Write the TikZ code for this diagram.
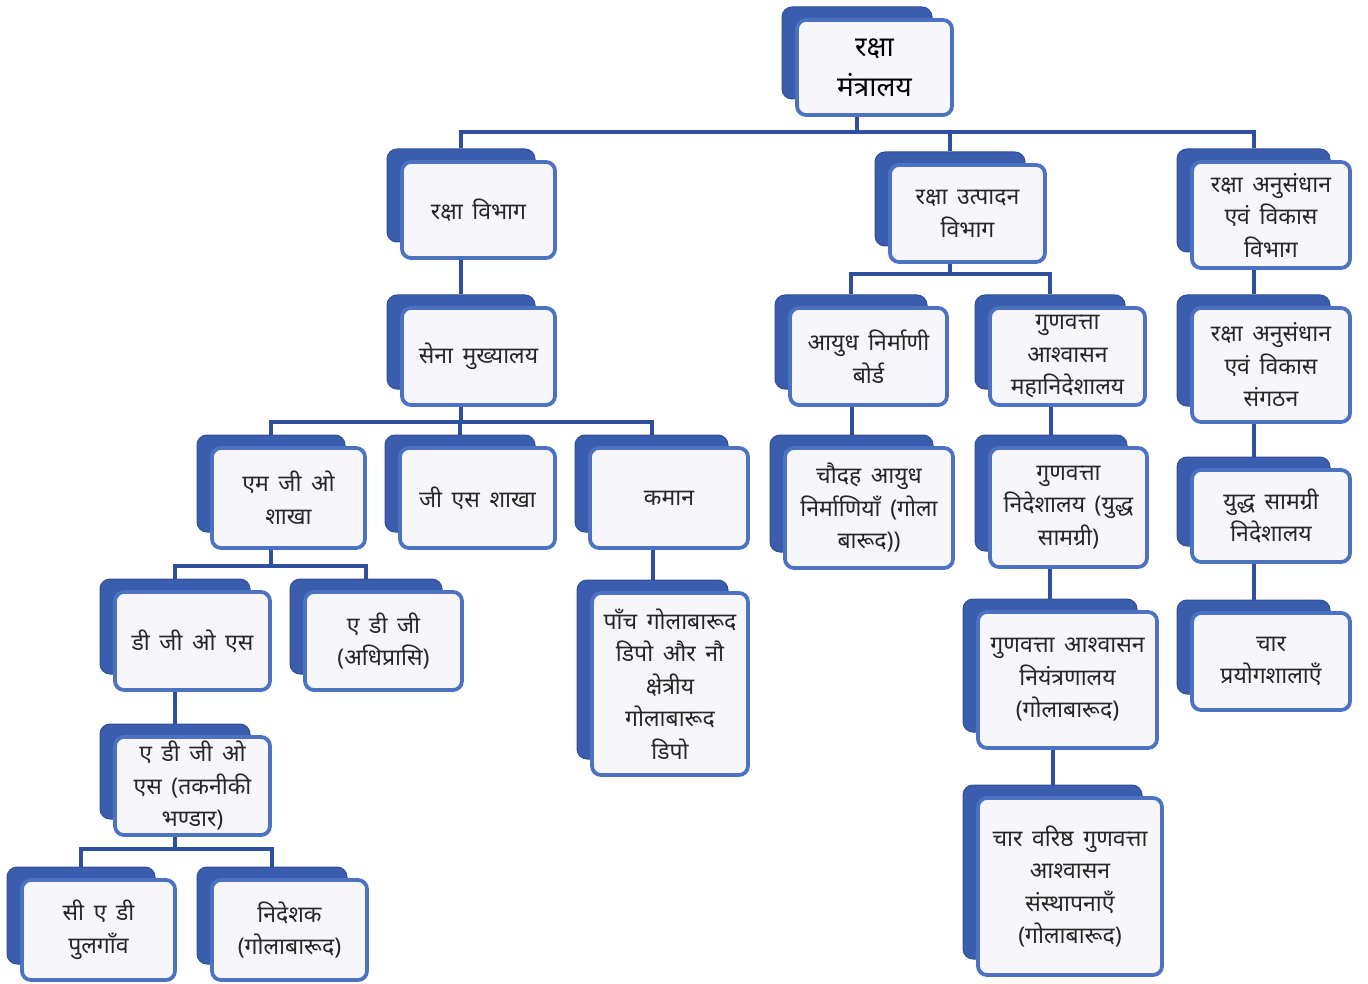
\documentclass[tikz,border=0pt]{standalone}
\usepackage{fontspec}
\newfontfamily\dev[Script=Devanagari, WordSpace=1.6]{Noto Sans}
\usetikzlibrary{calc}
\definecolor{backblue}{HTML}{3B5DAE}
\definecolor{frontline}{HTML}{4C72C2}
\definecolor{frontfill}{HTML}{F7F7FB}
\definecolor{connblue}{HTML}{2E4F9F}
\tikzset{
  backbox/.style={fill=backblue, draw=backblue!85!black, line width=1pt, rounded corners=10pt, inner sep=0pt},
  frontbox/.style={fill=frontfill, draw=frontline, line width=3.8pt, rounded corners=9pt, inner sep=0pt, align=center,
    font=\dev\fontsize{23}{32.5}\selectfont, text=black!85},
  conn/.style={draw=connblue, line width=4pt, line join=miter},
}
% [extra style], name, x1, y1, x2, y2 (front box), text
\newcommand\obox[7][]{%
  \node[backbox, minimum width={(#5-#3-5)*1pt}, minimum height={(#6-#4-3)*1pt}]
    (#2b) at ({(#3+#5-5)/2-15},{(#4+#6-3)/2-13}) {};
  \node[frontbox, #1, minimum width={(#5-#3)*1pt}, minimum height={(#6-#4)*1pt}]
    (#2) at ({(#3+#5)/2},{(#4+#6)/2}) {#7};
}
\begin{document}
\begin{tikzpicture}[x=1pt,y=-1pt]
\useasboundingbox[fill=white] (0,0) rectangle (1368,984);
\obox[font=\dev\fontsize{28}{40}\selectfont, text=black]{top}{797}{20}{952}{115}{रक्षा\\मंत्रालय}
\obox{rv}{402}{162}{555}{258}{रक्षा विभाग}
\obox{ru}{890}{165}{1045}{262}{रक्षा उत्पादन\\विभाग}
\obox{rd}{1192}{162}{1350}{268}{रक्षा अनुसंधान\\एवं विकास\\विभाग}
\obox{sm}{402}{308}{555}{405}{सेना मुख्यालय}
\obox{mgo}{212}{448}{365}{548}{एम जी ओ\\शाखा}
\obox{gs}{400}{448}{555}{548}{जी एस शाखा}
\obox{km}{590}{448}{748}{548}{कमान}
\obox{dgos}{115}{592}{270}{690}{डी जी ओ एस}
\obox{adg}{305}{592}{462}{690}{ए डी जी\\(अधिप्रासि)}
\obox{adgos}{115}{737}{270}{835}{ए डी जी ओ\\एस (तकनीकी\\भण्डार)}
\obox{cad}{22}{880}{175}{980}{सी ए डी\\पुलगाँव}
\obox{nid}{212}{880}{367}{980}{निदेशक\\(गोलाबारूद)}
\obox{panch}{592}{593}{748}{775}{पाँच गोलाबारूद\\डिपो और नौ\\क्षेत्रीय\\गोलाबारूद\\डिपो}
\obox{anb}{790}{308}{947}{405}{आयुध निर्माणी\\बोर्ड}
\obox{gam}{990}{308}{1145}{405}{गुणवत्ता\\आश्वासन\\महानिदेशालय}
\obox{chau}{785}{448}{953}{568}{चौदह आयुध\\निर्माणियाँ (गोला\\बारूद))}
\obox{gn}{990}{448}{1147}{567}{गुणवत्ता\\निदेशालय (युद्ध\\सामग्री)}
\obox{gan}{978}{612}{1157}{748}{गुणवत्ता आश्वासन\\नियंत्रणालय\\(गोलाबारूद)}
\obox{char}{978}{798}{1162}{975}{चार वरिष्ठ गुणवत्ता\\आश्वासन\\संस्थापनाएँ\\(गोलाबारूद)}
\obox{ras}{1192}{308}{1350}{422}{रक्षा अनुसंधान\\एवं विकास\\संगठन}
\obox{yud}{1192}{470}{1350}{562}{युद्ध सामग्री\\निदेशालय}
\obox{cp}{1192}{613}{1350}{710}{चार\\प्रयोगशालाएँ}
% bus levels
\coordinate (b0) at (0,132);
\coordinate (b1) at (0,422);
\coordinate (b2) at (0,566);
\coordinate (b3) at (0,849);
\coordinate (b4) at (0,274);
% top -> three departments
\draw[conn] (topb.center|-top.south) -- (topb.center|-b0);
\draw[conn] (rvb.north) -- (rvb.north|-b0) -- (rdb.north|-b0) -- (rdb.north);
\draw[conn] (rub.north|-b0) -- (rub.north);
% rv -> sm
\draw[conn] (smb.north|-rv.south) -- (smb.north);
% sm -> mgo, gs, km
\draw[conn] (smb.center|-sm.south) -- (smb.center|-b1);
\draw[conn] (mgob.north) -- (mgob.north|-b1) -- (kmb.north|-b1) -- (kmb.north);
\draw[conn] (gsb.north|-b1) -- (gsb.north);
% mgo -> dgos, adg
\draw[conn] (mgob.center|-mgo.south) -- (mgob.center|-b2);
\draw[conn] (dgosb.north) -- (dgosb.north|-b2) -- (adgb.north|-b2) -- (adgb.north);
% dgos -> adgos
\draw[conn] (adgosb.north|-dgos.south) -- (adgosb.north);
% adgos -> cad, nid
\draw[conn] (adgosb.center|-adgos.south) -- (adgosb.center|-b3);
\draw[conn] (cadb.north) -- (cadb.north|-b3) -- (nidb.north|-b3) -- (nidb.north);
% km -> panch
\draw[conn] (panchb.north|-km.south) -- (panchb.north);
% ru -> anb, gam
\draw[conn] (rub.center|-ru.south) -- (rub.center|-b4);
\draw[conn] (anbb.north) -- (anbb.north|-b4) -- (gamb.north|-b4) -- (gamb.north);
% anb -> chau
\draw[conn] (chaub.north|-anb.south) -- (chaub.north);
% gam -> gn -> gan -> char
\draw[conn] (gnb.north|-gam.south) -- (gnb.north);
\draw[conn] (ganb.north|-gn.south) -- (ganb.north);
\draw[conn] (charb.north|-gan.south) -- (charb.north);
% rd -> ras -> yud -> cp
\draw[conn] (rasb.north|-rd.south) -- (rasb.north);
\draw[conn] (yudb.north|-ras.south) -- (yudb.north);
\draw[conn] (cpb.north|-yud.south) -- (cpb.north);
\end{tikzpicture}
\end{document}
